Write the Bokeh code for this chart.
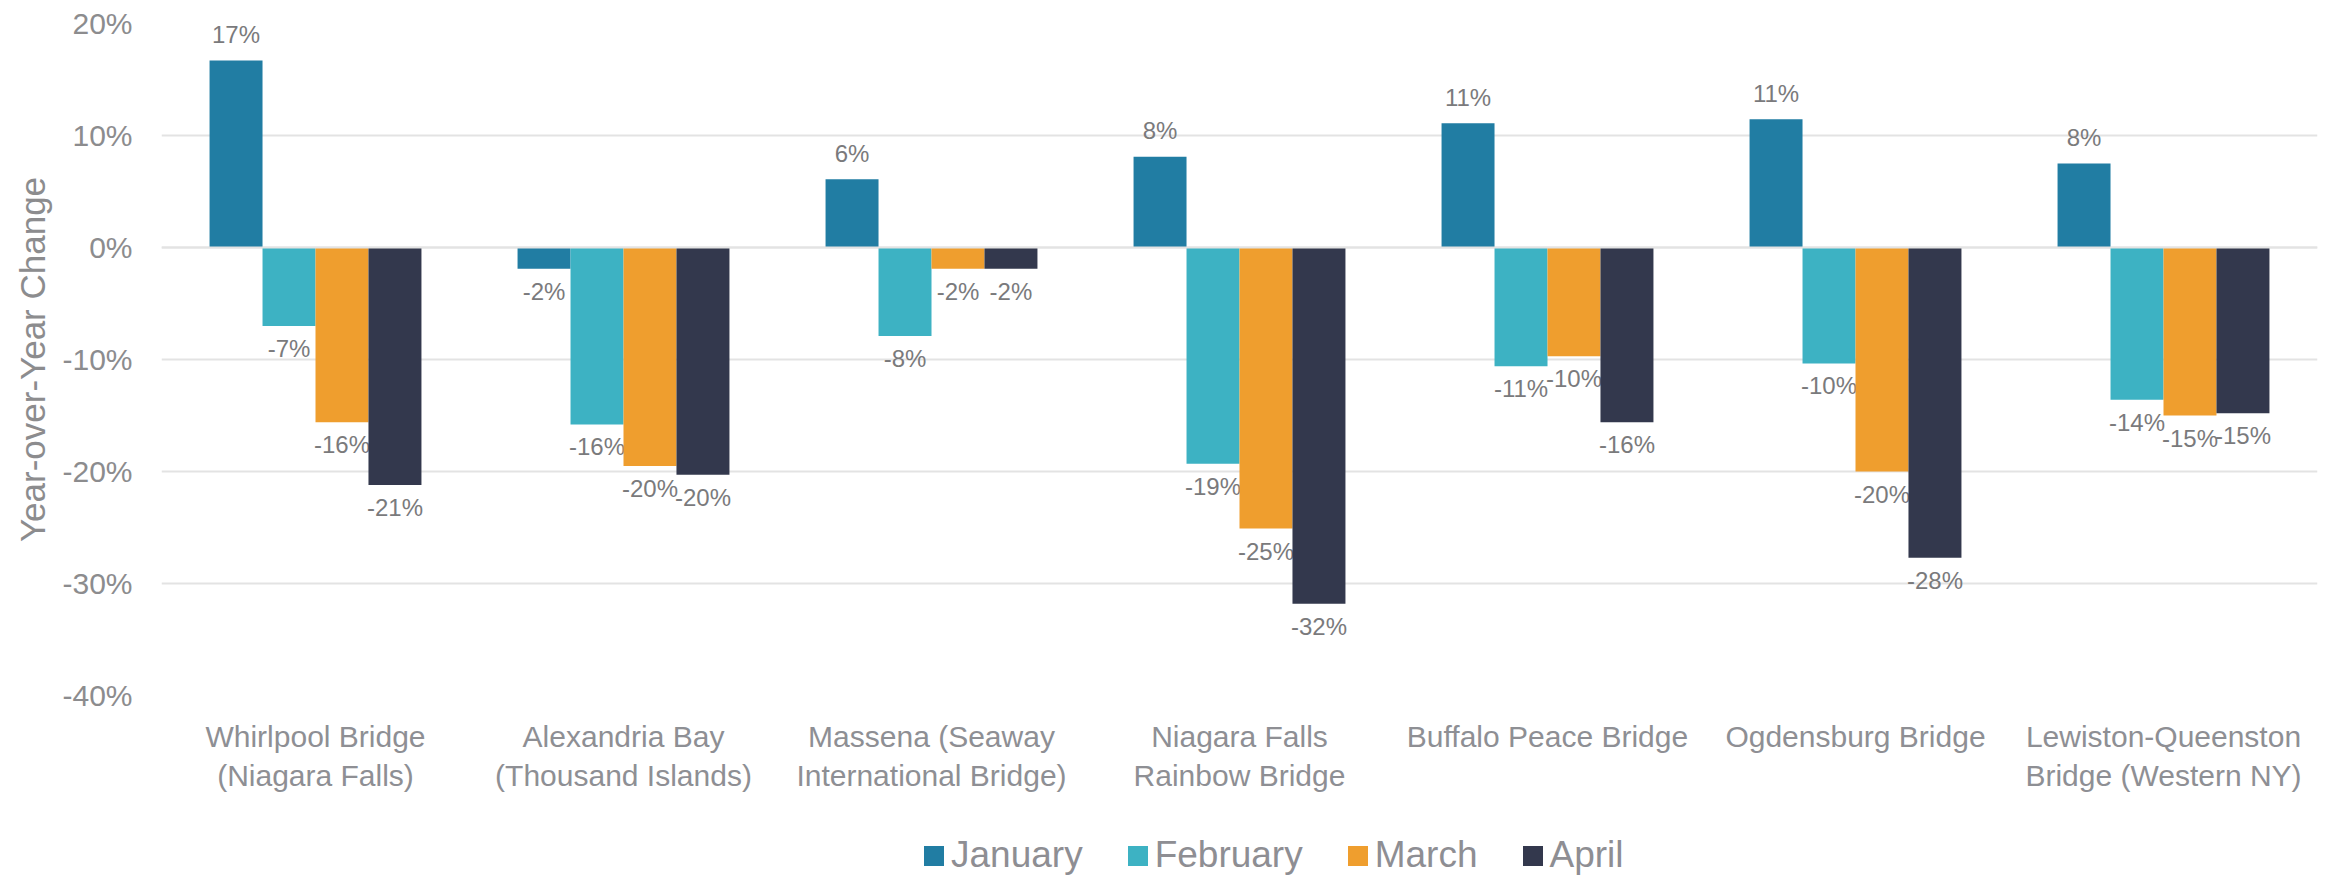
from bokeh.plotting import figure
from bokeh.layouts import column
from bokeh.models import (ColumnDataSource, FactorRange, Range1d, FixedTicker,
                          PrintfTickFormatter, Span, Legend, LegendItem)
from bokeh.transform import dodge
from bokeh.core.properties import value
from bokeh.embed import file_html
from bokeh.resources import INLINE

categories = [
    "Whirlpool Bridge\n(Niagara Falls)",
    "Alexandria Bay\n(Thousand Islands)",
    "Massena (Seaway\nInternational Bridge)",
    "Niagara Falls\nRainbow Bridge",
    "Buffalo Peace Bridge",
    "Ogdensburg Bridge",
    "Lewiston-Queenston\nBridge (Western NY)",
]
months = ["January", "February", "March", "April"]
january = [16.7, -1.9, 6.1, 8.1, 11.1, 11.45, 7.5]
february = [-7.0, -15.8, -7.9, -19.3, -10.6, -10.35, -13.6]
march = [-15.6, -19.5, -1.9, -25.1, -9.7, -20.0, -15.0]
april = [-21.2, -20.3, -1.9, -31.8, -15.6, -27.7, -14.8]
series = [january, february, march, april]
colors = ["#217DA3", "#3DB2C3", "#EF9E2E", "#33384D"]
y_ticks = [-40, -30, -20, -10, 0, 10, 20]

FONT = "Liberation Sans"
BAR_W = 0.172

p = figure(width=2328, height=822, x_range=FactorRange(*categories),
           y_range=Range1d(-40, 20), output_backend="svg", toolbar_location=None,
           min_border_left=161, min_border_right=11, min_border_top=23,
           min_border_bottom=127)
p.outline_line_color = None
p.background_fill_color = "white"
p.border_fill_color = "white"

p.xgrid.grid_line_color = None
p.ygrid.grid_line_color = "#E3E3E3"
p.ygrid.grid_line_width = 2

p.yaxis.ticker = FixedTicker(ticks=y_ticks)
p.yaxis.formatter = PrintfTickFormatter(format="%d%%")
for ax in (p.xaxis[0], p.yaxis[0]):
    ax.axis_line_color = None
    ax.major_tick_line_color = None
    ax.minor_tick_line_color = None
    ax.major_tick_out = 0
    ax.major_tick_in = 0
    ax.major_label_text_font = FONT
    ax.major_label_text_font_style = "normal"

p.yaxis.major_label_text_font_size = "30px"
p.yaxis.major_label_text_color = "#8C8C8E"
p.yaxis.major_label_standoff = 29
p.yaxis.axis_label = "Year-over-Year Change"
p.yaxis.axis_label_text_font = FONT
p.yaxis.axis_label_text_font_style = "normal"
p.yaxis.axis_label_text_font_size = "35px"
p.yaxis.axis_label_text_color = "#8C8C8E"
p.yaxis.axis_label_standoff = 7

p.xaxis.major_label_text_font_size = "30px"
p.xaxis.major_label_text_color = "#8E8F94"
p.xaxis.major_label_standoff = 24
p.xaxis.major_label_orientation = "horizontal"

# legend strip below the chart (its frame is aligned with the chart's frame)
lg = figure(width=2328, height=55, x_range=p.x_range, y_range=Range1d(1000, 1001),
            x_axis_type=None, y_axis_type=None, output_backend="svg",
            toolbar_location=None, min_border=0)
lg.outline_line_color = None
lg.grid.visible = False

offsets = [-1.5 * BAR_W, -0.5 * BAR_W, 0.5 * BAR_W, 1.5 * BAR_W]
items = []
for name, vals, col, off in zip(months, series, colors, offsets):
    src = ColumnDataSource(dict(cat=categories, val=vals))
    p.vbar(x=dodge("cat", off, range=p.x_range), top="val", bottom=0,
           width=BAR_W, source=src, fill_color=col, line_color=None)
    # same data, out of view, only to give the legend its swatch
    r = lg.vbar(x=dodge("cat", off, range=p.x_range), top="val", bottom=0,
                width=BAR_W, source=src, fill_color=col, line_color=None)
    items.append(LegendItem(label=name, renderers=[r]))
    pos_idx = [i for i, v in enumerate(vals) if v >= 0]
    neg_idx = [i for i, v in enumerate(vals) if v < 0]
    pos = ColumnDataSource(dict(cat=[categories[i] for i in pos_idx],
                                val=[vals[i] for i in pos_idx],
                                lab=["%d%%" % round(vals[i]) for i in pos_idx]))
    neg = ColumnDataSource(dict(cat=[categories[i] for i in neg_idx],
                                val=[vals[i] for i in neg_idx],
                                lab=["%d%%" % round(vals[i]) for i in neg_idx]))
    p.text(x=dodge("cat", off, range=p.x_range), y="val", text="lab", source=pos,
           text_font=value(FONT), text_font_size="24px", text_color="#7A7A7C",
           text_align="center", text_baseline="alphabetic", y_offset=-26)
    p.text(x=dodge("cat", off, range=p.x_range), y="val", text="lab", source=neg,
           text_font=value(FONT), text_font_size="24px", text_color="#7A7A7C",
           text_align="center", text_baseline="top", y_offset=9)

p.add_layout(Span(location=0, dimension="width", line_color="#E3E3E3",
                  line_width=2, level="overlay"))

legend = Legend(items=items, orientation="horizontal", location=(760, 1),
                glyph_width=25, glyph_height=25, label_standoff=5, spacing=42,
                padding=0, margin=0, border_line_color=None,
                background_fill_alpha=0,
                label_text_font=FONT, label_text_font_size="37px",
                label_text_color="#8E8E93")
lg.add_layout(legend, "center")

layout = column(p, lg, spacing=0)
open("out.html", "w").write(file_html(layout, INLINE))
